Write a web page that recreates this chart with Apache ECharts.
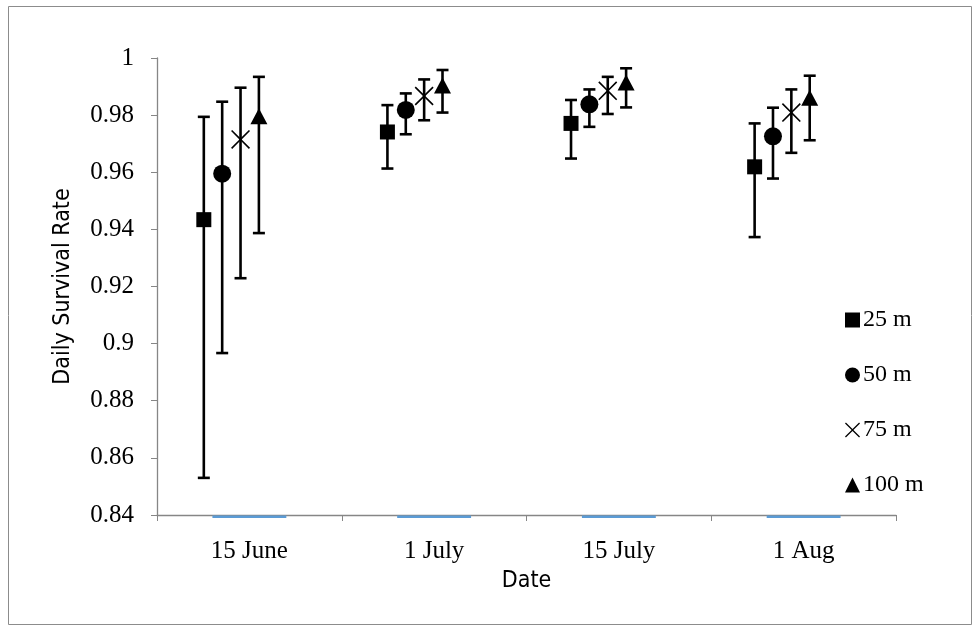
<!DOCTYPE html>
<html>
<head>
<meta charset="utf-8">
<script src="https://cdn.jsdelivr.net/npm/echarts@6/dist/echarts.min.js"></script>
<style>
  html, body { margin: 0; padding: 0; background: #fff; }
  #chart { width: 980px; height: 631px; }
</style>
</head>
<body>
<div id="chart"></div>
<script>
// Sampling dates along the category axis
const dates = ['15 June', '1 July', '15 July', '1 Aug'];

// Distance classes
const classNames = ['25 m', '50 m', '75 m', '100 m'];

// Daily survival rate estimates with lower / upper confidence limits
const dsr25  = [0.9434, 0.9741, 0.9771, 0.9619];
const lo25   = [0.8530, 0.9613, 0.9648, 0.9373];
const hi25   = [0.9794, 0.9835, 0.9853, 0.9771];

const dsr50  = [0.9595, 0.9818, 0.9838, 0.9726];
const lo50   = [0.8967, 0.9733, 0.9759, 0.9578];
const hi50   = [0.9847, 0.9876, 0.9890, 0.9826];

const dsr75  = [0.9715, 0.9867, 0.9885, 0.9809];
const lo75   = [0.9229, 0.9782, 0.9804, 0.9668];
const hi75   = [0.9896, 0.9925, 0.9934, 0.9890];

const dsr100 = [0.9796, 0.9904, 0.9914, 0.9861];
const lo100  = [0.9387, 0.9809, 0.9827, 0.9712];
const hi100  = [0.9934, 0.9958, 0.9964, 0.9938];

// Placeholder column series (all zero) that sits on the axis floor
const baseColumn = [0, 0, 0, 0];

// Y axis range and tick step
const yMin = 0.84, yMax = 1.0, yStep = 0.02;

const estimates = [dsr25, dsr50, dsr75, dsr100];
const lowers = [lo25, lo50, lo75, lo100];
const uppers = [hi25, hi50, hi75, hi100];

// Horizontal dodge between the distance classes within one date
const DODGE = 0.1;

const SERIF = '"Liberation Serif", "Times New Roman", serif';
const NARROW = '"Liberation Sans Narrow", "DejaVu Sans Condensed", "Liberation Sans", Arial, sans-serif';

const crossPath = 'path://M6,0L50,44L94,0L100,6L56,50L100,94L94,100L50,56L6,100L0,94L44,50L0,6Z';
const symbols = ['rect', 'circle', crossPath, 'triangle'];
const symbolSizes = [15, 18, 19, [17, 16]];

const chart = echarts.init(document.getElementById('chart'), null, { renderer: 'canvas' });

const series = [];

// thin column marks drawn at the bottom of the plot
series.push({
  type: 'custom',
  name: 'base',
  xAxisIndex: 0,
  yAxisIndex: 0,
  z: 1,
  silent: true,
  data: baseColumn.map((v, i) => [i, v]),
  renderItem: function (params, api) {
    const c = api.coord([api.value(0), yMin]);
    const w = api.size([1, 0])[0] * 0.4;
    return {
      type: 'rect',
      shape: { x: c[0] - w / 2, y: c[1] + 0.5, width: w, height: 2.5 },
      style: { fill: '#5b9bd5' }
    };
  }
});

// error bars
classNames.forEach((name, s) => {
  series.push({
    type: 'custom',
    name: name + ' CI',
    xAxisIndex: 1,
    yAxisIndex: 0,
    z: 2,
    silent: true,
    data: dates.map((d, i) => [i + 1 + DODGE * s, lowers[s][i], uppers[s][i]]),
    encode: { x: 0, y: [1, 2] },
    renderItem: function (params, api) {
      const x = api.value(0);
      const pLo = api.coord([x, api.value(1)]);
      const pHi = api.coord([x, api.value(2)]);
      const cap = 6;
      const st = { stroke: '#000', lineWidth: 2.6 };
      return {
        type: 'group',
        children: [
          { type: 'line', shape: { x1: pLo[0], y1: pLo[1], x2: pHi[0], y2: pHi[1] }, style: st },
          { type: 'line', shape: { x1: pLo[0] - cap, y1: pLo[1], x2: pLo[0] + cap, y2: pLo[1] }, style: st },
          { type: 'line', shape: { x1: pHi[0] - cap, y1: pHi[1], x2: pHi[0] + cap, y2: pHi[1] }, style: st }
        ]
      };
    }
  });
});

// point estimates
classNames.forEach((name, s) => {
  series.push({
    type: 'scatter',
    name: name,
    xAxisIndex: 1,
    yAxisIndex: 0,
    z: 3,
    symbol: symbols[s],
    symbolSize: symbolSizes[s],
    itemStyle: { color: '#000', opacity: 1 },
    data: dates.map((d, i) => [i + 1 + DODGE * s, estimates[s][i]])
  });
});

const option = {
  animation: false,
  backgroundColor: '#fff',
  graphic: [{
    type: 'rect',
    shape: { x: 8.5, y: 6.5, width: 963, height: 618 },
    style: { fill: 'none', stroke: '#8c8c8c', lineWidth: 1 },
    silent: true
  }],
  grid: { left: 157, right: 84, top: 58, bottom: 116, containLabel: false },
  legend: {
    orient: 'vertical',
    left: 840,
    top: 303,
    itemWidth: 15,
    itemHeight: 15,
    itemGap: 31,
    data: classNames,
    textStyle: { fontFamily: SERIF, fontSize: 24, color: '#000', padding: [0, 0, 0, -2] }
  },
  xAxis: [{
    type: 'category',
    data: dates,
    boundaryGap: true,
    name: 'Date',
    nameLocation: 'middle',
    nameGap: 55,
    nameTextStyle: { fontFamily: NARROW, fontSize: 23, color: '#000' },
    axisLine: { lineStyle: { color: '#868686', width: 1.3 } },
    axisTick: { show: true, length: 6, lineStyle: { color: '#868686' } },
    axisLabel: { fontFamily: SERIF, fontSize: 25, color: '#000', margin: 24 },
    splitLine: { show: false }
  }, {
    type: 'value',
    min: 0.745,
    max: 4.77,
    show: false,
    splitLine: { show: false }
  }],
  yAxis: [{
    type: 'value',
    min: yMin,
    max: yMax,
    interval: yStep,
    name: 'Daily Survival Rate',
    nameLocation: 'middle',
    nameGap: 82,
    nameTextStyle: { fontFamily: NARROW, fontSize: 23, color: '#000' },
    axisLine: { show: true, lineStyle: { color: '#868686', width: 1.3 } },
    axisTick: { show: true, length: 6, lineStyle: { color: '#868686' } },
    axisLabel: {
      fontFamily: SERIF, fontSize: 25, color: '#000', margin: 23,
      formatter: v => String(Number(v.toFixed(2)))
    },
    splitLine: { show: false }
  }],
  series: series
};

chart.setOption(option);
</script>
</body>
</html>
